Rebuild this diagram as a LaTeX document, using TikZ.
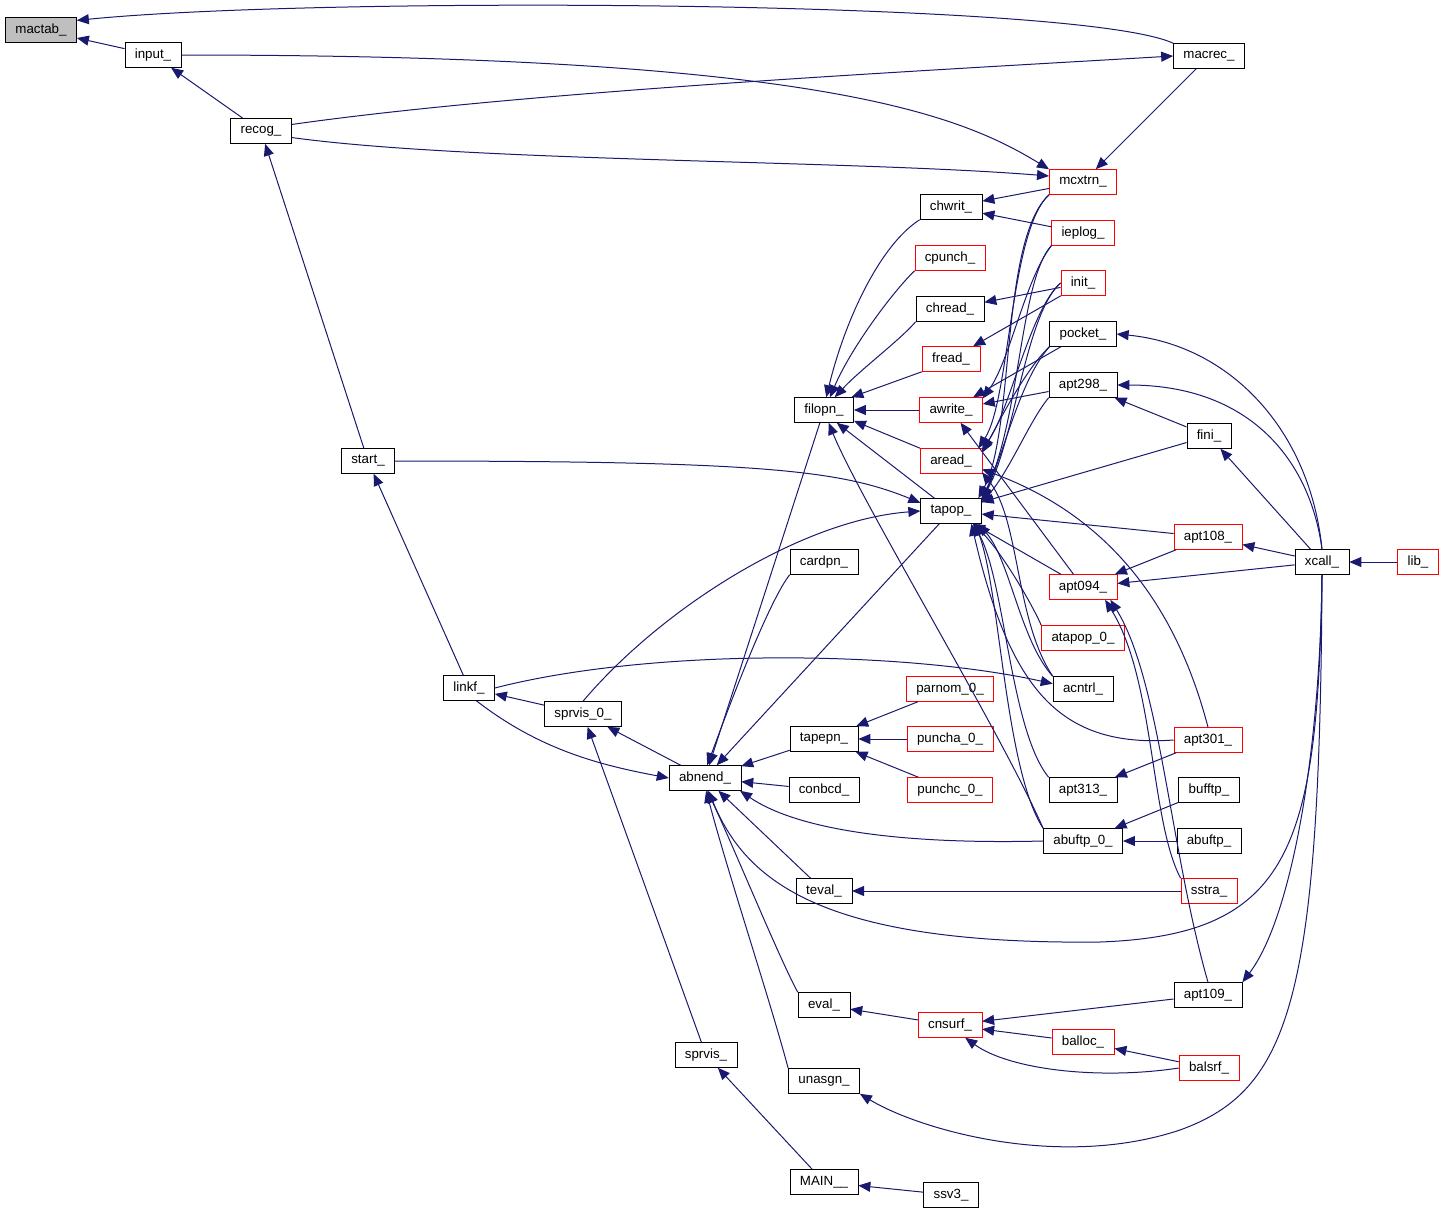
\documentclass[tikz,border=0pt]{standalone}
\usepackage{fontspec}
\setmainfont{Liberation Sans}
\usetikzlibrary{arrows.meta}
\definecolor{Edge}{HTML}{191970}
\definecolor{Root}{HTML}{BFBFBF}
\tikzset{
fnbox/.style={draw=black, fill=white, inner xsep=7.5pt, inner ysep=0pt, minimum height=18.75pt, font=\fontsize{10}{12}\selectfont},
fnred/.style={fnbox, draw=red},
fnroot/.style={fnbox, fill=Root},
callarrow/.style={draw=Edge, line width=0.75pt, -{Triangle[length=9pt,width=7.5pt]}}
}
\begin{document}
\begin{tikzpicture}[x=0.75pt, y=-0.75pt]
  \useasboundingbox (0,0) rectangle (1445,1215);
  % column 1-3
  \node[fnroot] (mactab) at (41,30) {mactab\_};
  \node[fnbox] (input) at (153,55) {input\_};
  \node[fnbox] (recog) at (261,131) {recog\_};
  \node[fnbox] (start) at (368,461) {start\_};
  \node[fnbox] (linkf) at (469,688) {linkf\_};
  \node[fnbox] (sprvis0) at (583,714) {sprvis\_0\_};
  \node[fnbox] (abnend) at (705,778) {abnend\_};
  \node[fnbox] (sprvis) at (706,1055) {sprvis\_};
  % column 4
  \node[fnbox] (filopn) at (824,410) {filopn\_};
  \node[fnbox] (cardpn) at (824,562) {cardpn\_};
  \node[fnbox] (tapepn) at (824,739) {tapepn\_};
  \node[fnbox] (conbcd) at (824,790) {conbcd\_};
  \node[fnbox] (teval) at (824,891) {teval\_};
  \node[fnbox] (eval) at (824,1005) {eval\_};
  \node[fnbox] (unasgn) at (824,1081) {unasgn\_};
  \node[fnbox] (main) at (824,1182) {MAIN\_\_};
  % column 5
  \node[fnbox] (chwrit) at (951,207) {chwrit\_};
  \node[fnred] (cpunch) at (950,258) {cpunch\_};
  \node[fnbox] (chread) at (950,309) {chread\_};
  \node[fnred] (fread) at (951,359) {fread\_};
  \node[fnred] (awrite) at (951,410) {awrite\_};
  \node[fnred] (aread) at (951,461) {aread\_};
  \node[fnbox] (tapop) at (951,511) {tapop\_};
  \node[fnred] (parnom0) at (950,689) {parnom\_0\_};
  \node[fnred] (puncha0) at (950,739) {puncha\_0\_};
  \node[fnred] (punchc0) at (950,790) {punchc\_0\_};
  \node[fnred] (cnsurf) at (950,1025) {cnsurf\_};
  \node[fnbox] (ssv3) at (951,1195) {ssv3\_};
  % column 6
  \node[fnred] (mcxtrn) at (1083,182) {mcxtrn\_};
  \node[fnred] (ieplog) at (1083,233) {ieplog\_};
  \node[fnred] (init) at (1083,283) {init\_};
  \node[fnbox] (pocket) at (1083,334) {pocket\_};
  \node[fnbox] (apt298) at (1083,385) {apt298\_};
  \node[fnred] (apt094) at (1083,587) {apt094\_};
  \node[fnred] (atapop0) at (1083,638) {atapop\_0\_};
  \node[fnbox] (acntrl) at (1083,689) {acntrl\_};
  \node[fnbox] (apt313) at (1083,790) {apt313\_};
  \node[fnbox] (abuftp0) at (1083,841) {abuftp\_0\_};
  \node[fnred] (balloc) at (1083,1042) {balloc\_};
  % column 7-9
  \node[fnbox] (macrec) at (1209,56) {macrec\_};
  \node[fnbox] (fini) at (1209,436) {fini\_};
  \node[fnred] (apt108) at (1208,537) {apt108\_};
  \node[fnred] (apt301) at (1208,740) {apt301\_};
  \node[fnbox] (bufftp) at (1209,790) {bufftp\_};
  \node[fnbox] (abuftp) at (1209,841) {abuftp\_};
  \node[fnred] (sstra) at (1209,891) {sstra\_};
  \node[fnbox] (apt109) at (1208,995) {apt109\_};
  \node[fnred] (balsrf) at (1209,1068) {balsrf\_};
  \node[fnbox] (xcall) at (1322,562) {xcall\_};
  \node[fnred] (lib) at (1418,562) {lib\_};
  % top edges
  \draw[callarrow] (input) -- (mactab);
  \draw[callarrow] (macrec.north west) .. controls (1080,0) and (320,-4) .. (mactab.15);
  \draw[callarrow] (recog) -- (input);
  \draw[callarrow] (input.east) .. controls (820,55) and (960,115) .. (mcxtrn.north west);
  \draw[callarrow] (recog.12) .. controls (520,92) and (900,72) .. (macrec.west);
  \draw[callarrow] (recog.-12) .. controls (470,162) and (850,160) .. (mcxtrn.170);
  \draw[callarrow] (macrec) -- (mcxtrn);
  \draw[callarrow] (start) -- (recog);
  \draw[callarrow] (linkf) -- (start);
  \draw[callarrow] (start.east) .. controls (760,461) and (840,470) .. (tapop.165);
  % into filopn
  \draw[callarrow] (mcxtrn) -- (chwrit);
  \draw[callarrow] (ieplog) -- (chwrit);
  \draw[callarrow] (chwrit.south west) .. controls (880,245) and (845,320) .. (filopn.80);
  \draw[callarrow] (cpunch.south west) .. controls (890,295) and (850,350) .. (filopn.65);
  \draw[callarrow] (chread.south west) .. controls (900,340) and (860,370) .. (filopn.50);
  \draw[callarrow] (fread.south west) -- (filopn.25);
  \draw[callarrow] (awrite) -- (filopn);
  \draw[callarrow] (aread) -- (filopn.-20);
  \draw[callarrow] (tapop) -- (filopn.-45);
  \draw[callarrow] (abuftp0.north west) .. controls (1000,730) and (860,500) .. (filopn.-70);
  \draw[callarrow] (filopn) -- (abnend);
  % awrite, aread, tapop from above
  \draw[callarrow] (init) -- (chread);
  \draw[callarrow] (init) -- (fread);
  \draw[callarrow] (pocket) -- (awrite);
  \draw[callarrow] (apt298) -- (awrite);
  \draw[callarrow] (apt094) -- (awrite);
  \draw[callarrow] (mcxtrn.south west) .. controls (1010,230) and (1010,400) .. (aread.25);
  \draw[callarrow] (mcxtrn.south west) .. controls (1000,240) and (1015,430) .. (tapop.25);
  \draw[callarrow] (ieplog.south west) .. controls (1020,280) and (1020,420) .. (tapop.22);
  \draw[callarrow] (ieplog.south west) .. controls (1025,280) and (1010,360) .. (awrite.20);
  \draw[callarrow] (init.west) .. controls (1030,310) and (1010,410) .. (aread.20);
  \draw[callarrow] (init.west) .. controls (1025,315) and (1015,440) .. (tapop.20);
  \draw[callarrow] (pocket.south west) .. controls (1025,370) and (1000,420) .. (aread.15);
  \draw[callarrow] (pocket.south west) .. controls (1020,380) and (1005,450) .. (tapop.18);
  \draw[callarrow] (apt298.south west) .. controls (1030,420) and (1010,470) .. (tapop.15);
  % tapop, aread from below
  \draw[callarrow] (fini) -- (tapop);
  \draw[callarrow] (apt108) -- (tapop);
  \draw[callarrow] (apt094) -- (tapop);
  \draw[callarrow] (atapop0.north west) .. controls (1030,600) and (1000,550) .. (tapop.-30);
  \draw[callarrow] (acntrl.north west) .. controls (1020,640) and (1010,560) .. (tapop.-25);
  \draw[callarrow] (acntrl.north west) .. controls (1015,620) and (1020,520) .. (aread.-20);
  \draw[callarrow] (apt313.north west) .. controls (1010,730) and (1005,580) .. (tapop.-30);
  \draw[callarrow] (abuftp0.north west) .. controls (1005,770) and (1000,590) .. (tapop.-28);
  \draw[callarrow] (apt301.west) .. controls (1060,748) and (1010,690) .. (tapop.-32);
  \draw[callarrow] (apt301.north) .. controls (1180,620) and (1120,520) .. (aread.-15);
  % xcall
  \draw[callarrow] (lib) -- (xcall);
  \draw[callarrow] (xcall.north) .. controls (1310,430) and (1230,345) .. (pocket.east);
  \draw[callarrow] (xcall.north) .. controls (1310,460) and (1250,385) .. (apt298.east);
  \draw[callarrow] (xcall) -- (fini);
  \draw[callarrow] (fini) -- (apt298);
  \draw[callarrow] (xcall) -- (apt108);
  \draw[callarrow] (xcall) -- (apt094);
  \draw[callarrow] (xcall.south) .. controls (1320,760) and (1290,920) .. (apt109.north east);
  \draw[callarrow] (xcall.south) .. controls (1318,850) and (1290,935) .. (1100,942) .. controls (820,945) and (745,880) .. (abnend.-75);
  \draw[callarrow] (xcall.south) .. controls (1320,1000) and (1290,1090) .. (1180,1130) .. controls (1060,1170) and (920,1130) .. (unasgn.south east);
  \draw[callarrow] (apt108) -- (apt094);
  \draw[callarrow] (apt109.north) .. controls (1170,850) and (1160,680) .. (apt094.-25);
  \draw[callarrow] (sstra.north west) .. controls (1150,820) and (1155,680) .. (apt094.-30);
  % lower left
  \draw[callarrow] (sprvis0) -- (linkf);
  \draw[callarrow] (linkf.east) .. controls (650,648) and (900,650) .. (acntrl.170);
  \draw[callarrow] (linkf.-60) .. controls (540,750) and (600,765) .. (abnend.west);
  \draw[callarrow] (abnend) -- (sprvis0);
  \draw[callarrow] (sprvis) -- (sprvis0);
  \draw[callarrow] (sprvis0.north) .. controls (660,610) and (800,520) .. (tapop.west);
  \draw[callarrow] (tapop) -- (abnend);
  \draw[callarrow] (cardpn.south west) .. controls (770,600) and (735,690) .. (abnend.80);
  \draw[callarrow] (tapepn) -- (abnend);
  \draw[callarrow] (conbcd) -- (abnend);
  \draw[callarrow] (abuftp0.west) .. controls (880,845) and (790,825) .. (abnend.-20);
  \draw[callarrow] (teval) -- (abnend);
  \draw[callarrow] (eval.north west) .. controls (780,960) and (735,850) .. (abnend.-80);
  \draw[callarrow] (unasgn.north west) .. controls (770,1000) and (730,880) .. (abnend.-85);
  \draw[callarrow] (parnom0) -- (tapepn);
  \draw[callarrow] (puncha0) -- (tapepn);
  \draw[callarrow] (punchc0) -- (tapepn);
  \draw[callarrow] (sstra) -- (teval);
  \draw[callarrow] (cnsurf) -- (eval);
  \draw[callarrow] (apt109) -- (cnsurf);
  \draw[callarrow] (balloc) -- (cnsurf);
  \draw[callarrow] (balsrf.west) .. controls (1100,1080) and (1010,1070) .. (cnsurf.-40);
  \draw[callarrow] (balsrf) -- (balloc);
  \draw[callarrow] (bufftp) -- (abuftp0);
  \draw[callarrow] (abuftp) -- (abuftp0);
  \draw[callarrow] (apt301) -- (apt313);
  \draw[callarrow] (main) -- (sprvis);
  \draw[callarrow] (ssv3) -- (main);
\end{tikzpicture}
\end{document}
